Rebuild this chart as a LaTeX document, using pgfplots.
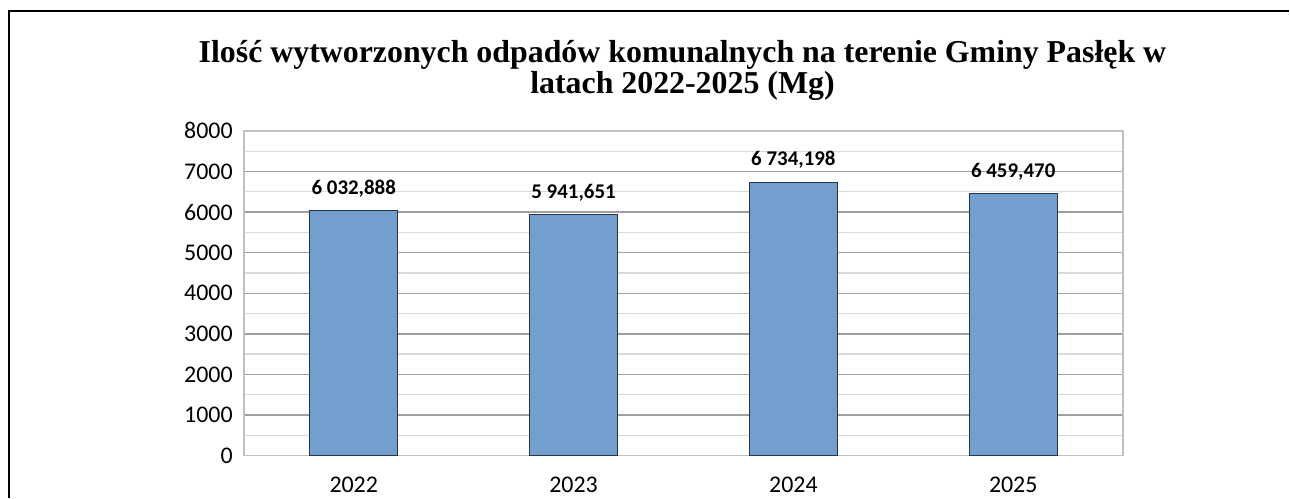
\documentclass[border=0pt]{standalone}
\usepackage{pgfplots}
\pgfplotsset{compat=1.18}
\usepackage{fontspec}
\setmainfont{Carlito}
\newfontfamily\titlefont{Liberation Serif}
\definecolor{barfill}{RGB}{115,159,207}
\definecolor{baredge}{RGB}{38,52,76}
\definecolor{majgrid}{RGB}{160,160,160}
\definecolor{mingrid}{RGB}{217,217,217}
\definecolor{axframe}{RGB}{191,191,191}

\begin{document}
\begin{tikzpicture}
\begin{axis}[
    at={(0,0)}, anchor=south west,
    scale only axis,
    width=880bp, height=325bp,
    ybar,
    bar width=88bp,
    xmin=-0.5, xmax=3.5,
    ymin=0, ymax=8000,
    xtick={0,1,2,3},
    xticklabels={2022,2023,2024,2025},
    ytick={0,1000,...,8000},
    minor ytick={500,1500,...,7500},
    ymajorgrids, yminorgrids,
    major grid style={majgrid, line width=1.4bp},
    minor grid style={mingrid, line width=1.4bp},
    axis line style={axframe, line width=1.6bp},
    major tick length=0pt, minor tick length=0pt,
    tick style={draw=none},
    scaled y ticks=false,
    /pgf/number format/1000 sep={},
    /pgf/number format/assume math mode=true,
    ticklabel style={font=\fontsize{24}{24}\selectfont, inner sep=0pt},
    y tick label style={anchor=east, xshift=-11bp},
    x tick label style={anchor=north, yshift=-21bp},
]
\addplot[fill=barfill, draw=baredge, line width=1bp,
    nodes near coords, point meta=explicit symbolic,
    nodes near coords style={font=\bfseries\fontsize{21}{21}\selectfont,
        inner sep=0pt, anchor=south, yshift=13bp, text=black}]
coordinates {
    (0,6032.888) [6 032,888]
    (1,5941.651) [5 941,651]
    (2,6734.198) [6 734,198]
    (3,6459.470) [6 459,470]
};
\end{axis}
% outer chart frame (cropped at right and bottom)
\draw[line width=2bp] (-235bp,-42bp) -- (-235bp,445bp) -- (1046bp,445bp);
\node[font=\titlefont\bfseries\fontsize{32}{32}\selectfont, anchor=base]
    at (439bp,393bp) {Ilość wytworzonych odpadów komunalnych na terenie Gminy Pasłęk w};
\node[font=\titlefont\bfseries\fontsize{32}{32}\selectfont, anchor=base]
    at (439bp,362bp) {latach 2022-2025 (Mg)};
\useasboundingbox (-244bp,-42bp) rectangle (1046bp,456bp);
\end{tikzpicture}
\end{document}
